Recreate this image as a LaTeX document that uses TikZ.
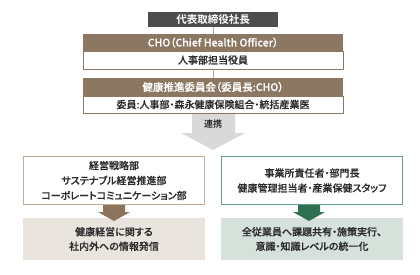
\documentclass[tikz,border=0pt]{standalone}
\usepackage{fontspec}
\IfFontExistsTF{Noto Sans CJK JP Medium}
  {\setmainfont{Noto Sans CJK JP Medium}[RawFeature=+palt, FakeBold=0.25, BoldFont=Noto Sans CJK JP Bold, BoldFeatures={FakeBold=0}]}
  {\setmainfont{Noto Sans CJK JP}[RawFeature=+palt, FakeBold=0.6]}
\definecolor{topgray}{HTML}{4D4D4D}
\definecolor{brownhead}{HTML}{8C7763}
\definecolor{arrowgray}{HTML}{D9D9D9}
\definecolor{linegray}{HTML}{A8A8A8}
\definecolor{tanline}{HTML}{C2AD99}
\definecolor{tanfill}{HTML}{E9E4DD}
\definecolor{greenline}{HTML}{5E9E87}
\definecolor{greenfill}{HTML}{D6E1DB}
\definecolor{greenarrow}{HTML}{2E7050}
\definecolor{brownarrow}{HTML}{8C745A}
\definecolor{txt}{HTML}{2B2B2B}
\begin{document}
\begin{tikzpicture}[x=1pt,y=-1pt,
  box/.style={inner sep=0pt, outer sep=0pt, align=center, text=txt},
  headbox/.style={box, fill=brownhead, text=white, minimum width=260pt, font=\fontsize{10.5}{12}\selectfont},
  bodybox/.style={box, fill=white, draw=brownhead, line width=0.8pt, minimum width=260pt, font=\fontsize{10}{12}\selectfont},
  outbox/.style={box, fill=white, line width=1.3pt, minimum width=181pt, minimum height=48pt, font=\fontsize{10}{15}\selectfont},
  fillbox/.style={box, minimum width=182pt, minimum height=42pt, font=\fontsize{10}{14.5}\selectfont},
  conn/.style={draw=linegray, line width=0.8pt}]
\useasboundingbox (0,0) rectangle (420,274);
\node[box, fill=topgray, text=white, minimum width=130pt, minimum height=15pt, font=\bfseries\fontsize{10.5}{12}\selectfont] (top) at (213,19.5) {代表取締役社長};
\node[headbox, minimum height=17pt] (chohead) at (213,42.5) {CHO（Chief Health Officer）};
\node[bodybox, minimum height=18pt] (chobody) at (213,60) {人事部担当役員};
\node[headbox, minimum height=18pt] (comhead) at (213,87) {健康推進委員会（委員長:CHO）};
\node[bodybox, minimum height=17pt] (combody) at (213,104.5) {委員:人事部・森永健康保険組合・統括産業医};
\draw[conn] (top.south) -- (chohead.north);
\draw[conn] (chobody.south) -- (comhead.north);
% gray arrow
\fill[arrowgray] (192,114) -- (235,114) -- (235,133) -- (245,133) -- (213,150) -- (181,133) -- (192,133) -- cycle;
\node[box, font=\bfseries\fontsize{9}{10}\selectfont] (renkei) at (213,124) {連携};
% bottom boxes
\node[outbox, draw=tanline] (left) at (114,180.5) {経営戦略部\\サステナブル経営推進部\\コーポレートコミュニケーション部};
\node[outbox, draw=greenline] (right) at (312,180.5) {事業所責任者・部門長\\健康管理担当者・産業保健スタッフ};
\node[fillbox, fill=tanfill] (leftfill) at (114,239) {健康経営に関する\\社内外への情報発信};
\node[fillbox, fill=greenfill] (rightfill) at (312,239) {全従業員へ課題共有・施策実行、\\意識・知識レベルの統一化};
% small arrows
\fill[brownarrow] (103,205) -- (125,205) -- (125,212) -- (130,212) -- (114,221) -- (98,212) -- (103,212) -- cycle;
\fill[greenarrow] (298,205) -- (320,205) -- (320,212) -- (325,212) -- (309,221) -- (293,212) -- (298,212) -- cycle;
\end{tikzpicture}
\end{document}
